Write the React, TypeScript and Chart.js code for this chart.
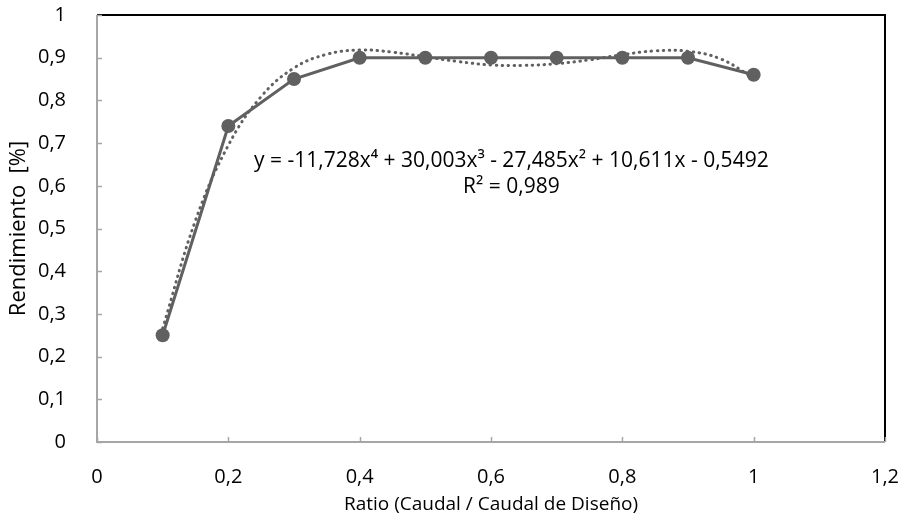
import React, { useEffect, useRef } from "react";
import { Chart, registerables } from "chart.js";

Chart.register(...registerables);

const ratio = [0.1, 0.2, 0.3, 0.4, 0.5, 0.6, 0.7, 0.8, 0.9, 1.0];
const rendimiento = [0.25, 0.74, 0.85, 0.9, 0.9, 0.9, 0.9, 0.9, 0.9, 0.86];

const trendX = [0.1, 0.15, 0.2, 0.25, 0.3, 0.35, 0.4, 0.45, 0.5, 0.55, 0.6, 0.65, 0.7, 0.75, 0.8, 0.85, 0.9, 0.95, 1.0];
const trendY = [0.266, 0.519, 0.695, 0.809, 0.876, 0.908, 0.918, 0.913, 0.902, 0.891, 0.883, 0.882, 0.886, 0.895, 0.907, 0.916, 0.915, 0.897, 0.852];

const equationText = "y = -11,728x\u2074 + 30,003x\u00b3 - 27,485x\u00b2 + 10,611x - 0,5492";
const r2Text = "R\u00b2 = 0,989";
const labelPos = { x: 0.631, y1: 0.658, y2: 0.597 };

const xTitle = "Ratio (Caudal / Caudal de Dise\u00f1o)";
const yTitle = "Rendimiento  [%]";

const FONT = "'Open Sans', Lato, sans-serif";
const FS_TICK = 20;
const FS_TITLE = 19;
const FS_YTITLE = 22;
const FS_EQ = 21;

const fmt = (v: number) => {
  const r = Math.round(v * 10) / 10;
  return String(r).replace(".", ",");
};

const framePlugin = {
  id: "frame",
  afterDatasetsDraw(chart: any) {
    const { ctx, chartArea, scales } = chart;
    const { left, right, top, bottom } = chartArea;
    ctx.save();
    ctx.strokeStyle = "#000";
    ctx.lineWidth = 2;
    ctx.beginPath();
    ctx.moveTo(left, top);
    ctx.lineTo(right, top);
    ctx.lineTo(right, bottom);
    ctx.stroke();
    ctx.strokeStyle = "#a6a6a6";
    ctx.lineWidth = 2;
    ctx.beginPath();
    ctx.moveTo(left, top);
    ctx.lineTo(left, bottom);
    ctx.lineTo(right, bottom);
    ctx.stroke();
    ctx.lineWidth = 1.5;
    ctx.beginPath();
    for (let v = 0; v <= 10; v++) {
      const py = Math.round(scales.y.getPixelForValue(v / 10)) + 0.5;
      ctx.moveTo(left, py);
      ctx.lineTo(left + 5, py);
    }
    for (let v = 0; v <= 6; v++) {
      const px = Math.round(scales.x.getPixelForValue(v * 0.2)) + 0.5;
      ctx.moveTo(px, bottom);
      ctx.lineTo(px, bottom - 5);
    }
    ctx.stroke();
    ctx.restore();
  },
  afterDraw(chart: any) {
    const { ctx, scales } = chart;
    ctx.save();
    ctx.fillStyle = "#000";
    ctx.font = `${FS_EQ}px ${FONT}`;
    ctx.textAlign = "center";
    ctx.textBaseline = "middle";
    const cx = scales.x.getPixelForValue(labelPos.x);
    ctx.fillText(equationText, cx, scales.y.getPixelForValue(labelPos.y1));
    ctx.fillText(r2Text, cx, scales.y.getPixelForValue(labelPos.y2));
    ctx.restore();
  },
};

export default function App() {
  const ref = useRef<HTMLCanvasElement>(null);
  useEffect(() => {
    document.body.style.margin = "0";
    const chart = new Chart(ref.current!, {
      type: "scatter",
      data: {
        datasets: [
          {
            label: "Tendencia",
            data: trendX.map((x, i) => ({ x, y: trendY[i] })),
            showLine: true,
            borderColor: "#606060",
            borderWidth: 3,
            borderDash: [0.5, 5.5],
            borderCapStyle: "round",
            pointRadius: 0,
            tension: 0.4,
            fill: false,
          },
          {
            label: "Rendimiento",
            data: ratio.map((x, i) => ({ x, y: rendimiento[i] })),
            showLine: true,
            borderColor: "#606060",
            backgroundColor: "#606060",
            borderWidth: 3,
            pointRadius: 7,
            pointBorderWidth: 0,
            pointBackgroundColor: "#606060",
            tension: 0,
          },
        ],
      },
      options: {
        animation: false,
        responsive: false,
        maintainAspectRatio: false,
        layout: { padding: { top: 15, right: 19, left: 0, bottom: 0 } },
        plugins: { legend: { display: false }, tooltip: { enabled: false } },
        scales: {
          x: {
            type: "linear",
            min: 0,
            max: 1.2,
            grid: { display: false },
            border: { display: false },
            ticks: {
              stepSize: 0.2,
              padding: 15,
              color: "#000",
              font: { family: FONT, size: FS_TICK },
              callback: (v: any) => fmt(Number(v)),
              maxRotation: 0,
            },
            title: {
              display: true,
              text: xTitle,
              color: "#000",
              font: { family: FONT, size: FS_TITLE },
              padding: { top: 0, bottom: 13 },
            },
            afterFit: (s: any) => {
              s.height = 87;
              s.paddingLeft = 0;
              s.paddingRight = 0;
            },
          },
          y: {
            type: "linear",
            min: 0,
            max: 1,
            grid: { display: false },
            border: { display: false },
            ticks: {
              stepSize: 0.1,
              padding: 23,
              color: "#000",
              font: { family: FONT, size: FS_TICK },
              callback: (v: any) => fmt(Number(v)),
            },
            title: {
              display: true,
              text: yTitle,
              color: "#000",
              font: { family: FONT, size: FS_YTITLE },
              padding: { top: 6, bottom: 0 },
            },
            afterFit: (s: any) => {
              s.width = 97;
              s.paddingTop = 0;
              s.paddingBottom = 0;
            },
          },
        },
      },
      plugins: [framePlugin],
    } as any);
    return () => chart.destroy();
  }, []);
  return (
    <div style={{ width: 904, height: 529 }}>
      <canvas ref={ref} width={904} height={529} style={{ display: "block" }} />
    </div>
  );
}
